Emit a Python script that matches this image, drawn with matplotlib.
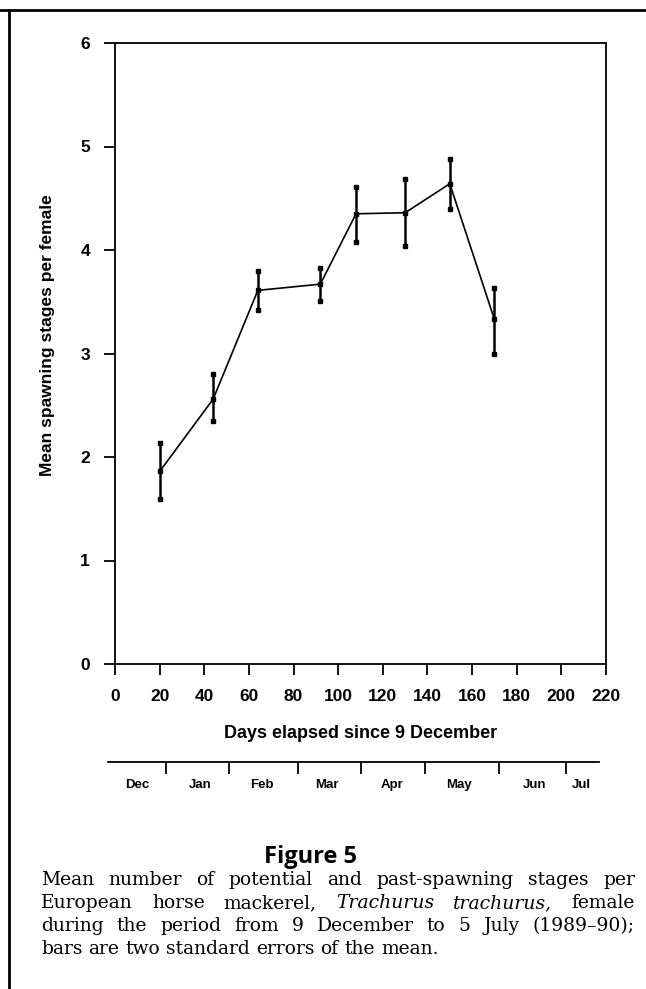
import numpy as np
import matplotlib
matplotlib.use("Agg")
import matplotlib.pyplot as plt
from matplotlib.lines import Line2D

# Datos
dias = [20, 44, 64, 92, 108, 130, 150, 170]
media = [1.86, 2.56, 3.61, 3.67, 4.35, 4.36, 4.64, 3.33]
limite_inf = [1.59, 2.35, 3.42, 3.51, 4.08, 4.04, 4.40, 3.00]
limite_sup = [2.14, 2.80, 3.80, 3.83, 4.61, 4.69, 4.88, 3.63]

x_ticks = list(range(0, 221, 20))
y_ticks = [0, 1, 2, 3, 4, 5, 6]

# Eje de meses (dias desde el 9 de diciembre)
limites_mes = [23, 51, 82, 110, 139, 172, 202]
meses = ["Dec", "Jan", "Feb", "Mar", "Apr", "May", "Jun", "Jul"]
pos_meses = [10, 38, 66, 95, 124, 154, 188, 209]
linea_meses = [-3, 217]

caption = [
    "Mean number of potential and past-spawning stages per",
    "European horse mackerel, Trachurus trachurus, female",
    "during the period from 9 December to 5 July (1989–90);",
    "bars are two standard errors of the mean.",
]
cursivas = {"Trachurus", "trachurus,"}

W, H = 646, 989
fig = plt.figure(figsize=(W / 100, H / 100), dpi=100)
plt.rcParams['font.family'] = ['Liberation Sans', 'DejaVu Sans']

def fx(px):
    return px / W

def fy(py):
    return 1 - py / H

ax = fig.add_axes([fx(115), fy(664), fx(606) - fx(115), fy(43) - fy(664)])
ax.set_xlim(0, 220)
ax.set_ylim(0, 6)

err = [np.array(media) - np.array(limite_inf), np.array(limite_sup) - np.array(media)]
ax.errorbar(dias, media, yerr=err, fmt='s-', color='black', ms=3.5, lw=1.2,
            elinewidth=1.8, capsize=0)
ax.plot(dias, limite_inf, 's', color='black', ms=3.5, ls='none')
ax.plot(dias, limite_sup, 's', color='black', ms=3.5, ls='none')

ax.set_xticks(x_ticks)
ax.set_yticks(y_ticks)
ax.tick_params(direction='out', length=8, width=1.3, labelsize=12.5, pad=10)
for lab in ax.get_xticklabels() + ax.get_yticklabels():
    lab.set_fontweight('bold')
for s in ax.spines.values():
    s.set_linewidth(1.3)

ax.set_xlabel("Days elapsed since 9 December", fontsize=13, fontweight='bold', labelpad=15)
ax.set_ylabel("Mean spawning stages per female", fontsize=12.5, fontweight='bold')
ax.yaxis.set_label_coords(-0.122, 0.53)

# Eje secundario con los meses
ax2 = fig.add_axes([fx(115), fy(785), fx(606) - fx(115), fy(762) - fy(785)])
ax2.set_xlim(0, 220)
ax2.set_ylim(0, 1)
ax2.axis('off')
ax2.plot(linea_meses, [1, 1], color='black', lw=1.3, clip_on=False)
ax2.vlines(limites_mes, 0.5, 1, color='black', lw=1.3)
for m, p in zip(meses, pos_meses):
    ax2.text(p, 0.0, m, ha='center', va='center', fontsize=9.5, fontweight='bold')

# Marco de la pagina
fig.add_artist(Line2D([0, 1], [fy(10), fy(10)], color='black', lw=2))
fig.add_artist(Line2D([fx(9), fx(9)], [fy(10), 0], color='black', lw=2))

fig.text(fx(310), fy(857), "Figure 5", ha='center', va='center', fontsize=17,
         fontweight='bold', family='Open Sans')

# Pie de figura justificado
izq, der = 41, 635
tam = 13.5
fig.canvas.draw()
rend = fig.canvas.get_renderer()
ref = fig.text(0, 0, "a a", fontsize=tam, family='DejaVu Serif')
ref1 = fig.text(0, 0, "aa", fontsize=tam, family='DejaVu Serif')
espacio = ref.get_window_extent(rend).width - ref1.get_window_extent(rend).width
ref.remove()
ref1.remove()
for i, linea in enumerate(caption):
    y = fy(880 + 23 * i)
    palabras = linea.split(" ")
    textos = []
    for p in palabras:
        t = fig.text(0, y, p, ha='left', va='center', fontsize=tam,
                     family='DejaVu Serif', style='italic' if p in cursivas else 'normal')
        textos.append(t)
    anchos = [t.get_window_extent(rend).width for t in textos]
    if i < len(caption) - 1:
        hueco = (der - izq - sum(anchos)) / (len(textos) - 1)
    else:
        hueco = espacio
    x = izq
    for t, w in zip(textos, anchos):
        t.set_x(fx(x))
        x += w + hueco

fig.savefig("out.png", dpi=100)
